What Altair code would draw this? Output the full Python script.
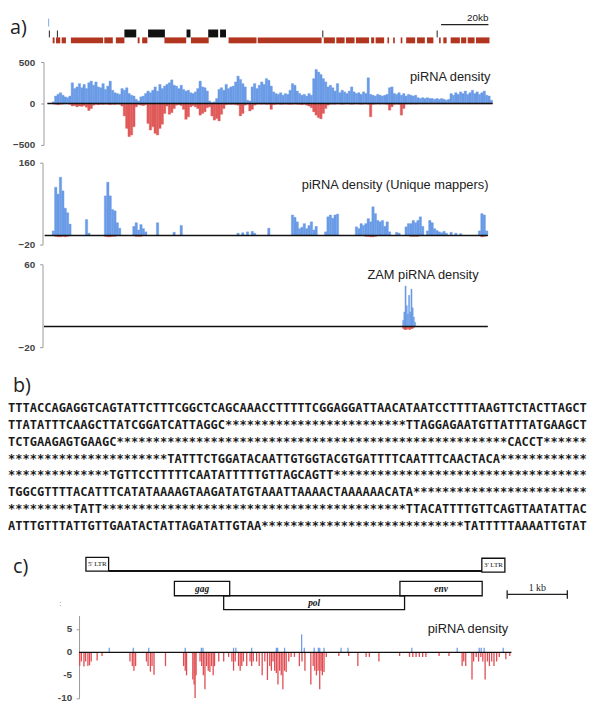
import altair as alt
import pandas as pd

W = 592
BLUE = "#6a9be6"
RED = "#e05a5a"
TRACK_RED = "#b23520"

# ---------------- panel a: genome annotation track (kb) ----------------
te_start = [2.2, 3.6, 6.0, 9.9, 24.0, 28.9, 38.1, 40.0, 49.4, 60.6, 76.5, 88.8, 116.7, 122.0, 126.1,
            130.3, 136.7, 138.6, 143.6, 146.0, 149.2, 151.5, 156.1, 160.3, 165.4, 167.2, 170.3, 174.7,
            177.5, 181.0]
te_end = [3.0, 5.4, 7.8, 23.5, 27.6, 32.5, 38.9, 42.2, 58.6, 68.1, 88.3, 115.8, 121.4, 125.5, 129.7,
          135.8, 138.0, 142.2, 144.3, 146.7, 149.9, 155.3, 159.4, 163.0, 166.1, 168.6, 174.2, 176.9,
          180.4, 186.7]
gene_start = [32.5, 42.5, 58.75, 67.9, 72.9]
gene_end = [37.5, 49.6, 60.4, 72.1, 75.4]
tick_kb = [0.8, 4.2, 116.3, 164.6]
blue_tick_kb = [0.5]
scalebar_kb = [166.25, 186.25]
scalebar_label = ["20kb"]

# ---------------- piRNA density (1 kb bins) ----------------
dens_pos = [0, 0, 20, 90, 110, 130, 100, 80, 70, 90,
            250, 180, 200, 240, 190, 230, 180, 250, 270, 220,
            260, 200, 190, 240, 170, 210, 270, 160, 130, 120,
            110, 180, 160, 190, 120, 100, 90, 50, 30, 80,
            90, 120, 150, 130, 160, 200, 150, 230, 180, 210,
            230, 250, 285, 220, 210, 180, 220, 170, 150, 160,
            130, 120, 140, 180, 270, 200, 190, 150, 30, 10,
            20, 60, 170, 190, 160, 230, 180, 200, 210, 260,
            330, 290, 240, 200, 40, 30, 200, 240, 180, 220,
            260, 230, 300, 280, 210, 140, 120, 110, 130, 100,
            120, 110, 160, 240, 220, 150, 120, 100, 110, 90,
            120, 100, 300, 410, 380, 350, 300, 260, 200, 220,
            190, 150, 240, 130, 160, 140, 120, 150, 200, 140,
            120, 130, 110, 140, 120, 310, 110, 100, 90, 110,
            100, 90, 100, 110, 190, 200, 120, 110, 130, 100,
            120, 90, 110, 100, 90, 100, 70, 60, 70, 60,
            70, 60, 60, 50, 60, 50, 60, 50, 40, 50,
            120, 100, 130, 110, 140, 120, 150, 110, 130, 160,
            120, 140, 110, 130, 150, 100, 90, 40]
dens_neg = [0, 0, -5, -10, -15, -10, -8, -5, -5, -10,
            -30, -25, -40, -30, -35, -25, -45, -85, -60, -20,
            -10, -15, -10, -12, -8, -10, -15, -10, -12, -8,
            -10, -30, -150, -300, -400, -380, -280, -40, -15, -20,
            -25, -15, -240, -320, -280, -360, -380, -300, -250, -120,
            -30, -130, -110, -60, -20, -15, -25, -70, -190, -160,
            -40, -25, -40, -60, -140, -120, -100, -50, -40, -150,
            -200, -180, -210, -130, -60, -15, -10, -12, -10, -15,
            -20, -150, -120, -20, -10, -90, -70, -20, -10, -8,
            -10, -8, -12, -10, -70, -15, -10, -8, -12, -10,
            -8, -10, -12, -10, -8, -10, -12, -15, -10, -20,
            -30, -50, -100, -140, -170, -185, -120, -60, -20, -10,
            -8, -10, -6, -8, -10, -8, -6, -8, -10, -8,
            -6, -8, -10, -8, -6, -10, -160, -10, -8, -6,
            -8, -6, -8, -10, -80, -40, -10, -8, -10, -140,
            -60, -8, -6, -8, -6, -8, -6, -5, -6, -5,
            -6, -5, -6, -5, -6, -5, -6, -5, -6, -5,
            -6, -5, -6, -5, -6, -5, -6, -5, -6, -5,
            -6, -5, -6, -5, -6, -5, -6, -5]

# ---------------- unique mappers ----------------
uniq_kb = [2, 3, 4, 5, 6, 7, 8, 9, 16, 17, 24, 25, 26, 27, 28, 29, 30, 36, 37, 38, 39, 40, 41, 46, 53, 56,
           80, 82, 84, 86, 87, 93, 103, 104, 105, 106, 107, 108, 109, 110, 111, 112, 113, 117, 118, 119,
           120, 121, 122, 130, 131, 132, 133, 134, 135, 136, 137, 138, 139, 140, 141, 142, 143, 144, 147,
           148, 151, 152, 153, 154, 155, 156, 157, 158, 160, 161, 162, 163, 164, 165, 166, 167, 168, 170,
           172, 174, 182, 183, 184, 185]
uniq_val = [10, 106, 91, 128, 98, 60, 50, 25, 35, 5, 87, 117, 87, 57, 54, 28, 16, 20, 28, 12, 24, 15, 8,
            28, 7, 22, 5, 6, 8, 9, 5, 16, 45, 40, 30, 15, 18, 26, 15, 22, 30, 12, 20, 8, 41, 45, 38, 45, 47,
            19, 15, 26, 22, 26, 37, 30, 63, 48, 33, 30, 33, 20, 30, 8, 7, 5, 19, 26, 26, 33, 28, 33, 41,
            20, 10, 33, 28, 15, 11, 8, 6, 9, 5, 7, 5, 4, 10, 48, 45, 10]
uniq_neg_kb = [3, 4, 5, 6, 7, 8, 24, 25, 26, 27, 28, 37, 38, 39, 134, 135, 136, 137, 138, 153, 154, 155,
               156, 183, 184]
uniq_neg_val = [-2, -3, -3, -2, -3, -2, -2, -3, -3, -2, -2, -2, -2, -2, -2, -2, -3, -3, -2, -2, -2, -2,
                -2, -3, -2]

# ---------------- ZAM piRNA density ----------------
zam_kb = [149.5, 150.0, 150.5, 151.0, 151.5, 152.0, 152.5, 153.0, 153.5, 154.0, 154.5, 155.0]
zam_pos = [0, 6, 14, 39, 20, 12, 30, 14, 36, 18, 9, 4]
zam_neg = [0, -2, -3, -3, -3, -2, -3, -3, -2, -2, -1, 0]

# ---------------- panel b: sequence ----------------
seq_lines = [
    "TTTACCAGAGGTCAGTATTCTTTCGGCTCAGCAAACCTTTTTCGGAGGATTAACATAATCCTTTTAAGTTCTACTTAGCT",
    "TTATATTTCAAGCTTATCGGATCATTAGGC" + "*" * 25 + "TTAGGAGAATGTTATTTATGAAGCT",
    "TCTGAAGAGTGAAGC" + "*" * 54 + "CACCT" + "*" * 6,
    "*" * 22 + "TATTTCTGGATACAATTGTGGTACGTGATTTTCAATTTCAACTACA" + "*" * 12,
    "*" * 14 + "TGTTCCTTTTTCAATATTTTTGTTAGCAGTT" + "*" * 35,
    "TGGCGTTTTACATTTCATATAAAAGTAAGATATGTAAATTAAAACTAAAAAACATA" + "*" * 24,
    "*" * 9 + "TATT" + "*" * 42 + "TTACATTTTGTTCAGTTAATATTAC",
    "ATTTGTTTATTGTTGAATACTATTAGATATTGTAA" + "*" * 28 + "TATTTTTAAAATTGTAT",
]

# ---------------- panel c: ZAM structure (bp) ----------------
ltr_names = ["5' LTR", "3' LTR"]
ltr_start = [0, 6579]
ltr_end = [377, 6962]
orf_upper = ["gag", "env"]
orf_upper_start = [1470, 5218]
orf_upper_end = [2389, 6585]
orf_lower = ["pol"]
orf_lower_start = [2289]
orf_lower_end = [5295]
zam_line = [377, 6579]
kb_bar = [7000, 8000]

c_neg_nt = [13, 47, 100, 133, 180, 213, 247, 367, 467, 1033, 1080, 1113, 1147, 1367, 1400, 1447, 1480,
            1520, 1753, 2120, 2153, 2180, 2307, 2333, 2353, 2373, 2453, 2487, 2520, 2553, 2587, 2620,
            2653, 2687, 2720, 2747, 2833, 2933, 3033, 3100, 3133, 3167, 3233, 3267, 3300, 3333, 3400,
            3467, 3500, 3533, 3600, 3653, 3713, 3767, 3820, 3867, 3900, 3933, 3967, 4000, 4033, 4067,
            4100, 4133, 4167, 4200, 4253, 4300, 4367, 4467, 4520, 4580, 4700, 4747, 4780, 4813, 4847,
            4880, 4907, 4933, 4967, 5013, 5267, 5467, 5653, 5820, 5887, 6080, 6500, 6700, 6767, 6833,
            6900, 6967, 7033, 7300, 7500, 7767, 7800, 7840, 7967, 8000, 8053, 8100, 8147, 8187, 8233,
            8280, 8320, 8367, 8413, 8467, 8520, 8653, 8733]
c_neg_val = [-2.9, -2, -3.1, -2, -3, -2.8, -2, -1.8, -0.8, -2, -3, -4, -3, -2, -3, -4.2, -3, -4.9, -3,
             -3, -4, -5, -5.9, -7, -9.9, -5, -2, -3, -5, -8, -3, -4, -4.3, -3, -5, -3, -2, -2, -1, -2,
             -4, -2, -3, -4, -3, -2, -3, -2, -3, -2, -2, -3, -5, -2, -6, -3, -4, -2, -4, -4.5, -7, -4,
             -5, -8, -4, -4.3, -2, -1, -1, -3, -2, -4, -7, -3, -4, -5, -4, -8, -4, -5, -4.3, -1, -0.8,
             -0.8, -3, -1, -1, -2, -0.8, -1, -1, -1, -1, -1, -1, -0.8, -0.8, -3, -2, -3, -5.9, -2, -1,
             -2, -1, -2, -5.9, -2, -3, -2, -3, -2, -1, -1.5, -0.8]
c_pos_nt = [613, 1100, 1413, 2153, 2480, 2513, 3133, 3180, 3500, 4000, 4027, 4167, 4513, 4567, 4767,
            4853, 4880, 4967, 5313, 5453, 6747, 7667, 8113, 8153, 8213, 8600]
c_pos_val = [1, 1, 1, 1, 1, 1, 1, 1, 1, 1, 1, 1, 3.9, 1, 1, 1, 1, 1, 1, 1, 1, 1, 1, 1, 1, 1]
c_ticks = [5, 0, -5, -10]
c_tick_labels = ["5", "0", "-5", "-10"]

# ====================================================================
xkb = alt.Scale(domain=[0, 190], range=[40, 496])


def yaxis(vals, off, pad=6, labels=True):
    return alt.Axis(values=vals, offset=off, title=None, grid=False, domainColor="#9a9a9a",
                    domainWidth=1, tickColor="#9a9a9a", tickSize=3, labelFont="Liberation Sans",
                    labelFontSize=10, labelFontWeight="bold", labelColor="#444", labelPadding=pad,
                    labelFlush=False, labelOverlap=False, labelBound=False, format="d", labels=labels)


def label(text, x, y, size=13, align="right", font="Liberation Sans", color="#222", style="normal",
          weight="normal"):
    return alt.Chart(pd.DataFrame({"t": [text]})).mark_text(
        align=align, baseline="middle", fontSize=size, font=font, color=color,
        fontStyle=style, fontWeight=weight
    ).encode(x=alt.value(x), y=alt.value(y), text="t:N")


# ---- P0 track ----
te = alt.Chart(pd.DataFrame({"s": te_start, "e": te_end})).mark_rect(color=TRACK_RED).encode(
    x=alt.X("s:Q", scale=xkb, axis=None), x2="e:Q", y=alt.value(24), y2=alt.value(30))
gene = alt.Chart(pd.DataFrame({"s": gene_start, "e": gene_end})).mark_rect(color="#111").encode(
    x=alt.X("s:Q", scale=xkb, axis=None), x2="e:Q", y=alt.value(16), y2=alt.value(24))
ticks = alt.Chart(pd.DataFrame({"kb": tick_kb})).mark_rule(color="#222", strokeWidth=1).encode(
    x=alt.X("kb:Q", scale=xkb, axis=None), y=alt.value(17), y2=alt.value(24))
bt = alt.Chart(pd.DataFrame({"kb": blue_tick_kb})).mark_rule(color="#7fa8e8", strokeWidth=1).encode(
    x=alt.X("kb:Q", scale=xkb, axis=None), y=alt.value(5), y2=alt.value(13))
sb = alt.Chart(pd.DataFrame({"s": [scalebar_kb[0]], "e": [scalebar_kb[1]]})).mark_rule(
    color="#222", strokeWidth=1.2).encode(x=alt.X("s:Q", scale=xkb, axis=None), x2="e:Q", y=alt.value(11))
sbl = alt.Chart(pd.DataFrame({"kb": [scalebar_kb[1]], "t": scalebar_label})).mark_text(
    align="right", baseline="middle", fontSize=10, font="Liberation Sans", color="#222").encode(
    x=alt.X("kb:Q", scale=xkb, axis=None), y=alt.value(4.5), text="t:N")
p0 = alt.layer(te, gene, ticks, bt, sb, sbl,
               label("a)", 2, 15, size=20, align="left", font="Open Sans")).properties(width=W, height=42)


# ---- density panel builder ----
def density(df_pos, df_neg, ysc, ax, base_range, title, tx, ty, width_kb, h):
    layers = []
    layers.append(alt.Chart(df_pos).transform_calculate(kb2=f"datum.kb + {width_kb}").mark_bar(
        color=BLUE, stroke=BLUE, strokeWidth=0.4).encode(
        x=alt.X("kb:Q", scale=xkb, axis=None), x2="kb2:Q",
        y=alt.Y("v:Q", scale=ysc, axis=ax), y2=alt.datum(0)))
    layers.append(alt.Chart(df_neg).transform_calculate(kb2=f"datum.kb + {width_kb}").mark_bar(
        color=RED, stroke=RED, strokeWidth=0.4).encode(
        x=alt.X("kb:Q", scale=xkb, axis=None), x2="kb2:Q",
        y=alt.Y("v:Q", scale=ysc, axis=ax), y2=alt.datum(0)))
    layers.append(alt.Chart(pd.DataFrame({"s": [base_range[0]], "e": [base_range[1]]})).mark_rule(
        color="#111", strokeWidth=1.4).encode(x=alt.X("s:Q", scale=xkb, axis=None), x2="e:Q",
                                               y=alt.datum(0)))
    layers.append(label(title, tx, ty))
    return alt.layer(*layers).properties(width=W, height=h)


kb1 = list(range(len(dens_pos)))
p1 = density(pd.DataFrame({"kb": kb1, "v": dens_pos}), pd.DataFrame({"kb": kb1, "v": dens_neg}),
             alt.Scale(domain=[-500, 500], range=[91, 7]), yaxis([-500, 0, 500], -36),
             [0, 188], "piRNA density", 489, 22.5, 1, 100)
p2 = density(pd.DataFrame({"kb": uniq_kb, "v": uniq_val}), pd.DataFrame({"kb": uniq_neg_kb, "v": uniq_neg_val}),
             alt.Scale(domain=[-20, 160], range=[92, 9]), yaxis([-20, 160], -35, 5),
             [-1.2, 186], "piRNA density (Unique mappers)", 487, 31.5, 1, 100)
p3 = density(pd.DataFrame({"kb": zam_kb, "v": zam_pos}), pd.DataFrame({"kb": zam_kb, "v": zam_neg}),
             alt.Scale(domain=[-20, 60], range=[96, 12]), yaxis([-20, 60], -35, 5),
             [-1.5, 186], "ZAM piRNA density", 477, 23, 0.5, 110)

# ---- P4 sequence ----
seq_df = pd.DataFrame({"row": list(range(len(seq_lines))), "t": seq_lines})
seq = alt.Chart(seq_df).mark_text(align="left", baseline="middle", font="DejaVu Sans Mono",
                                  fontSize=12.2, fontWeight="bold", color="#1a1a1a").encode(
    x=alt.value(0), y=alt.Y("row:Q", scale=alt.Scale(domain=[0, 7], range=[48, 167]), axis=None),
    text="t:N")
p4 = alt.layer(seq, label("b)", 5, 25, size=20, align="left", font="Open Sans")).properties(width=W, height=188)

# ---- P5a ZAM structure ----
xbp = alt.Scale(domain=[0, 8100], range=[79, 79 + 8100 * 0.061])


def box_row(names, starts, ends, y0, y1, font_size, style, weight):
    df = pd.DataFrame({"name": names, "s": starts, "e": ends})
    df["mid"] = (df["s"] + df["e"]) / 2
    rect = alt.Chart(df).mark_rect(fill="white", stroke="#111", strokeWidth=1.3).encode(
        x=alt.X("s:Q", scale=xbp, axis=None), x2="e:Q", y=alt.value(y0), y2=alt.value(y1))
    txt = alt.Chart(df).mark_text(font="Liberation Serif", fontSize=font_size, fontStyle=style,
                                  fontWeight=weight, color="#111", baseline="middle").encode(
        x=alt.X("mid:Q", scale=xbp, axis=None), y=alt.value((y0 + y1) / 2), text="name:N")
    return [rect, txt]


mainline = alt.Chart(pd.DataFrame({"s": [zam_line[0]], "e": [zam_line[1]]})).mark_rule(
    color="#111", strokeWidth=2).encode(x=alt.X("s:Q", scale=xbp, axis=None), x2="e:Q", y=alt.value(25))
ltr5 = box_row(ltr_names[:1], ltr_start[:1], ltr_end[:1], 11, 25, 7, "normal", "normal")
ltr3 = box_row(ltr_names[1:], ltr_start[1:], ltr_end[1:], 12, 26, 7, "normal", "normal")
upper = box_row(orf_upper, orf_upper_start, orf_upper_end, 35.5, 50, 9.5, "italic", "bold")
lower = box_row(orf_lower, orf_lower_start, orf_lower_end, 50, 64, 9.5, "italic", "bold")
kbline = alt.Chart(pd.DataFrame({"s": [kb_bar[0]], "e": [kb_bar[1]]})).mark_rule(
    color="#222", strokeWidth=1.3).encode(x=alt.X("s:Q", scale=xbp, axis=None), x2="e:Q", y=alt.value(48.7))
kbends = alt.Chart(pd.DataFrame({"bp": kb_bar})).mark_rule(color="#222", strokeWidth=1.3).encode(
    x=alt.X("bp:Q", scale=xbp, axis=None), y=alt.value(44.5), y2=alt.value(53))
kbtxt = alt.Chart(pd.DataFrame({"bp": [(kb_bar[0] + kb_bar[1]) / 2], "t": ["1 kb"]})).mark_text(
    font="Liberation Serif", fontSize=10, color="#222", baseline="middle").encode(
    x=alt.X("bp:Q", scale=xbp, axis=None), y=alt.value(42), text="t:N")
p5a = alt.layer(mainline, *lower, *upper, *ltr5, *ltr3, kbline, kbends, kbtxt,
                label("c)", 5, 21, size=20, align="left", font="Open Sans"),
                label(":", 52, 58, size=8, align="left", color="#666")).properties(width=W, height=67)

# ---- P5b piRNA density on ZAM ----
xnt = alt.Scale(domain=[0, 8800], range=[72, 512])
ysc5 = alt.Scale(domain=[-10, 7.5], range=[87, 3])
ax5 = yaxis(c_ticks, -72, 4, labels=False)
cneg = alt.Chart(pd.DataFrame({"nt": c_neg_nt, "v": c_neg_val})).mark_rule(color="#e04a50", strokeWidth=1.3).encode(
    x=alt.X("nt:Q", scale=xnt, axis=None), y=alt.Y("v:Q", scale=ysc5, axis=ax5), y2=alt.datum(0))
cpos = alt.Chart(pd.DataFrame({"nt": c_pos_nt, "v": c_pos_val})).mark_rule(color="#6e9ee8", strokeWidth=1.3).encode(
    x=alt.X("nt:Q", scale=xnt, axis=None), y=alt.Y("v:Q", scale=ysc5, axis=ax5), y2=alt.datum(0))
cbase = alt.Chart(pd.DataFrame({"s": [0], "e": [8767]})).mark_rule(color="#111", strokeWidth=1.2).encode(
    x=alt.X("s:Q", scale=xnt, axis=None), x2="e:Q", y=alt.datum(0))
ctick_txt = alt.Chart(pd.DataFrame({"v": c_ticks, "t": c_tick_labels})).mark_text(
    align="right", baseline="middle", font="Liberation Sans", fontSize=10, fontWeight="bold",
    color="#444").encode(x=alt.value(65), y=alt.Y("v:Q", scale=ysc5, axis=ax5), text="t:N")
p5b = alt.layer(cneg, cpos, cbase, ctick_txt, label("piRNA density", 507, 17)).properties(width=W, height=93)

chart = alt.vconcat(p0, p1, p2, p3, p4, p5a, p5b, spacing=0).properties(
    padding=0, background="white").configure_view(strokeWidth=0)

chart.save("out.html", embed_options={"renderer": "svg", "actions": False})
